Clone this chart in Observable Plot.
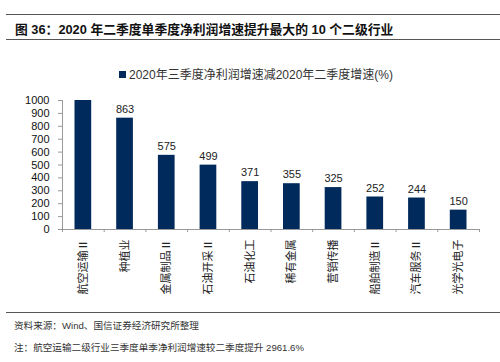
<!DOCTYPE html>
<html>
<head>
<meta charset="utf-8">
<script src="https://cdn.jsdelivr.net/npm/d3@7"></script>
<script src="https://cdn.jsdelivr.net/npm/@observablehq/plot@0.6"></script>
<style>
  html, body { margin: 0; padding: 0; background: #fff; }
  #fig { position: relative; width: 500px; height: 362px; overflow: hidden; font-family: "Liberation Sans", "Noto Sans CJK SC", sans-serif; }
  .hline { position: absolute; left: 6px; right: 0; height: 0; border-top: 1.3px solid #555; }
  #title { position: absolute; left: 15px; top: 19px; font-size: 12.8px; font-weight: bold; color: #111; white-space: nowrap; }
  #legend { position: absolute; left: 0; width: 512px; top: 65px; text-align: center; font-size: 12px; color: #333; white-space: nowrap; }
  #legend .sw { display: inline-block; width: 7px; height: 7px; background: #002a5c; margin-right: 3px; vertical-align: 1px; }
  #chart { position: absolute; left: 0; top: 85px; }
  .foot { position: absolute; left: 14px; font-size: 9.6px; color: #333; white-space: nowrap; }
</style>
</head>
<body>
<div id="fig">
  <div class="hline" style="top:14px"></div>
  <div id="title">图 36：2020 年二季度单季度净利润增速提升最大的 10 个二级行业</div>
  <div class="hline" style="top:39px"></div>
  <div id="legend"><span class="sw"></span><span id="legendText"></span></div>
  <div id="chart"></div>
  <div class="hline" style="top:312px"></div>
  <div class="foot" style="top:318px">资料来源：Wind、国信证券经济研究所整理</div>
  <div class="foot" style="top:340px">注：航空运输二级行业三季度单季净利润增速较二季度提升 2961.6%</div>
</div>
<script>
const categories = ["航空运输Ⅱ", "种植业", "金属制品Ⅱ", "石油开采Ⅱ", "石油化工", "稀有金属", "营销传播", "船舶制造Ⅱ", "汽车服务Ⅱ", "光学光电子"];
const values = [1000, 863, 575, 499, 371, 355, 325, 252, 244, 150];
const valueLabels = ["", "863", "575", "499", "371", "355", "325", "252", "244", "150"];
const yTicks = [0, 100, 200, 300, 400, 500, 600, 700, 800, 900, 1000];
const seriesName = "2020年三季度净利润增速减2020年二季度增速(%)";

document.getElementById("legendText").textContent = seriesName;

const data = categories.map((c, i) => ({i, c, v: values[i], label: valueLabels[i]}));
const navy = "#002a5c";

const chart = Plot.plot({
  width: 500,
  height: 225,
  marginLeft: 62,
  marginRight: 21,
  marginTop: 15,
  marginBottom: 81,
  style: {fontFamily: '"Liberation Sans", "Noto Sans CJK SC", sans-serif', fontSize: "11px", color: "#111", background: "transparent"},
  x: {domain: [0, categories.length]},
  y: {domain: [0, 1000]},
  marks: [
    Plot.rectY(data, {x1: "i", x2: d => d.i + 1, y: "v", fill: navy, insetLeft: 12.5, insetRight: 12.5}),
    Plot.text(data, {x: d => d.i + 0.5, y: "v", text: "label", dy: -9, fill: "#222", fontSize: 11}),
    Plot.axisY({ticks: yTicks, tickFormat: d3.format("d"), tickSize: 4, tickPadding: 9, stroke: "#999", label: null, fill: "#111"}),
    Plot.axisX({ticks: d3.range(categories.length + 1), tickFormat: () => "", tickSize: 3, stroke: "#999", label: null}),
    Plot.axisX({ticks: categories.map((_, i) => i + 0.5), tickFormat: d => categories[Math.floor(d)], tickSize: 0, tickPadding: 10, tickRotate: -90, label: null, fontSize: 11, fill: "#222"}),
    Plot.ruleX([0], {stroke: "#999"}),
    Plot.ruleY([0], {stroke: "#999"})
  ]
});
document.getElementById("chart").appendChild(chart);
</script>
</body>
</html>
